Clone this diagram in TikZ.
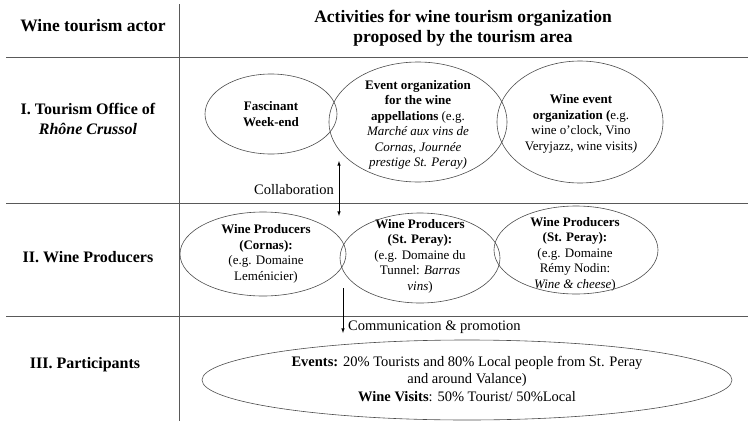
\documentclass[tikz,border=0pt]{standalone}
\usepackage{fontspec}
\setmainfont{Liberation Serif}

\begin{document}
\begin{tikzpicture}[x=1pt, y=-1pt,
	every node/.style={align=center, inner sep=0pt},
	linie/.style={draw=black!65, line width=0.9pt},
	ell/.style={draw=black!70, line width=0.6pt},
	kopf/.style={font=\fontsize{17.5}{20.5}\selectfont\bfseries},
	zeile/.style={font=\fontsize{16}{19.5}\selectfont\bfseries},
	txt/.style={font=\fontsize{13}{15.5}\selectfont},
	pfeiltxt/.style={font=\fontsize{14.5}{17}\selectfont},
	pfeil/.style={draw=black, line width=0.6pt}]

	\useasboundingbox (0,0) rectangle (748,426);

	%Tabelle
	\draw [linie] (179,4) -- (179,421);
	\foreach \y in {57, 203, 316}
	{
		\draw [linie] (6,\y) -- (748,\y);
	}

	%Kopfzeile
	\node [kopf] (akteur) at (93,26) {Wine tourism actor};
	\node [kopf] (aktiv) at (463,28) {Activities for wine tourism organization\\ proposed by the tourism area};

	%Zeilen
	\node [zeile] (office) at (88,119) {I. Tourism Office of\\ \textit{Rhône Crussol}};
	\node [zeile] (prod) at (88,257) {II. Wine Producers};
	\node [zeile] (part) at (85,365) {III. Participants};

	%Ellipsen Zeile I
	\node [txt] (fw) at (271,114) {\textbf{Fascinant}\\ \textbf{Week-end}};
	\draw [ell] (fw.center) ellipse (66 and 40);

	\node [txt] (eo) at (418,125) {\textbf{Event organization}\\ \textbf{for the wine}\\ \textbf{appellations} (e.g.\\ \textit{Marché aux vins de}\\ \textit{Cornas, Journée}\\ \textit{prestige St. Peray)}};
	\draw [ell] (418,122) ellipse (89 and 60);

	\node [txt] (we) at (581,124) {\textbf{Wine event}\\ \textbf{organization (}e.g.\\ wine o'clock, Vino\\ Veryjazz, wine visits\textit{)}};
	\draw [ell] (580,122) ellipse (83 and 61);

	%Ellipsen Zeile II
	\node [txt] (cornas) at (266,254) {\textbf{Wine Producers}\\ \textbf{(Cornas):}\\ (e.g. Domaine\\ Leménicier)};
	\draw [ell] (263,254) ellipse (83 and 42);

	\node [txt] (peray) at (420,256) {\textbf{Wine Producers}\\ \textbf{(St. Peray):}\\ (e.g. Domaine du\\ Tunnel: \textit{Barras}\\ \textit{vins})};
	\draw [ell] (420,258) ellipse (80 and 45);

	\node [txt] (nodin) at (575,254) {\textbf{Wine Producers}\\ \textbf{(St. Peray):}\\ (e.g. Domaine\\ Rémy Nodin:\\ \textit{Wine \& cheese})};
	\draw [ell] (576,250) ellipse (82 and 44);

	%Ellipse Zeile III
	\node [txt, font=\fontsize{14.5}{17.7}\selectfont] (gaeste) at (467,379) {\textbf{Events:} 20\% Tourists and 80\% Local people from St. Peray\\ and around Valance)\\ \textbf{Wine Visits}: 50\% Tourist/ 50\%Local};
	\draw [ell] (467,380) ellipse (265 and 40);

	%Pfeile
	\coordinate (kolOben) at (339,161);
	\coordinate (kolUnten) at (339,216);
	\draw [pfeil, latex-latex] (kolUnten) -- (kolOben);
	\node [pfeiltxt] (kol) at (294,190) {Collaboration};

	\coordinate (komOben) at (343,288);
	\coordinate (komUnten) at (343,333);
	\draw [pfeil, -latex] (komOben) -- (komUnten);
	\node [pfeiltxt, anchor=west] (kom) at (348,327) {Communication \& promotion};

\end{tikzpicture}
\end{document}
